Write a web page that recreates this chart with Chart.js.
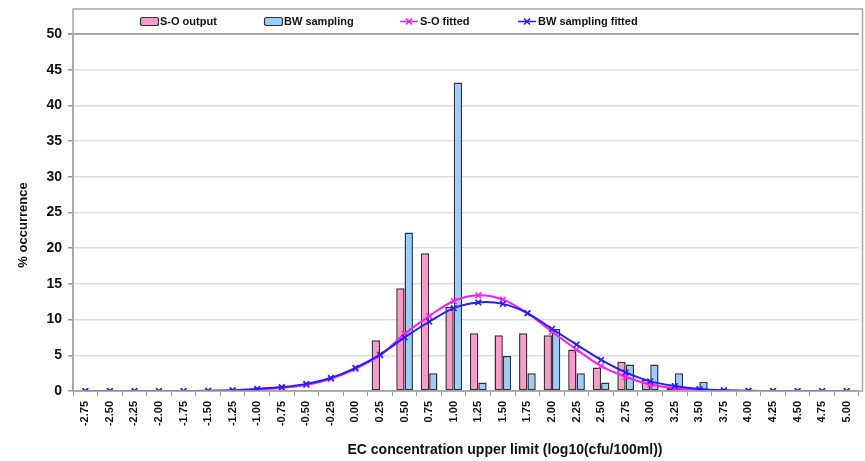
<!DOCTYPE html>
<html><head><meta charset="utf-8">
<script src="https://cdn.jsdelivr.net/npm/chart.js@4"></script>
<style>html,body{margin:0;padding:0;background:#fff;}#wrap{width:865px;height:461px;}</style>
</head><body><div id="wrap"><canvas id="c" width="865" height="461"></canvas></div>
<script>
const categories = ['-2.75','-2.50','-2.25','-2.00','-1.75','-1.50','-1.25','-1.00','-0.75','-0.50','-0.25','0.00',
  '0.25','0.50','0.75','1.00','1.25','1.50','1.75','2.00','2.25','2.50','2.75','3.00','3.25','3.50',
  '3.75','4.00','4.25','4.50','4.75','5.00'];
const soOutput = [null,null,null,null,null,null,null,null,null,null,null,null,
  7.1,14.4,19.3,11.8,8.1,7.8,8.1,7.8,5.8,3.3,4.1,1.6,0.5,0.2,
  null,null,null,null,null,null];
const bwSampling = [null,null,null,null,null,null,null,null,null,null,null,null,
  null,22.2,2.5,43.2,1.2,4.9,2.5,8.7,2.5,1.2,3.7,3.7,2.5,1.3,
  null,null,null,null,null,null];
const soFitted = [0,0,0,0,0,0.02,0.08,0.2,0.45,0.85,1.7,3.1,
  5.0,8.0,10.5,12.6,13.4,12.8,10.9,8.3,5.8,3.5,2.0,0.9,0.4,0.15,
  0.05,0.01,0,0,0,0];
const bwFitted = [0,0,0,0,0,0.03,0.1,0.3,0.55,1.0,1.85,3.25,
  5.1,7.5,9.7,11.6,12.4,12.2,10.9,8.7,6.5,4.35,2.6,1.35,0.7,0.28,
  0.1,0.03,0,0,0,0];
const yTicks = [0,5,10,15,20,25,30,35,40,45,50];

const FONT = "'Liberation Sans', Arial, sans-serif";
const PINK = '#ff99cc', BLUE = '#99ccff', MAG = '#ff1aff', DBLUE = '#1f1fff';

const framePlugin = {
  id: 'frame',
  afterDraw(chart) {
    const ctx = chart.ctx, ca = chart.chartArea;
    ctx.save();
    ctx.strokeStyle = '#a8a8a8';
    ctx.lineWidth = 1.5;
    ctx.strokeRect(ca.left, 9, 862.5 - ca.left, ca.bottom - 9);
    const pos = [140, 264, 400, 518];
    ctx.font = "bold 11px " + FONT;
    ctx.textBaseline = 'middle';
    ctx.textAlign = 'left';
    const ly = 21.5;
    chart.data.datasets.forEach((ds, i) => {
      const x = pos[i];
      if (ds.type === 'bar') {
        ctx.fillStyle = ds.backgroundColor;
        ctx.strokeStyle = '#333';
        ctx.lineWidth = 1.2;
        ctx.beginPath();
        ctx.roundRect(x + 0.5, ly - 4, 18, 8, 2);
        ctx.fill(); ctx.stroke();
      } else {
        ctx.strokeStyle = ds.borderColor;
        ctx.lineWidth = 1.5;
        ctx.beginPath(); ctx.moveTo(x, ly); ctx.lineTo(x + 18, ly); ctx.stroke();
        const cx = x + 9, r = 3;
        ctx.beginPath();
        ctx.moveTo(cx - r, ly - r); ctx.lineTo(cx + r, ly + r);
        ctx.moveTo(cx + r, ly - r); ctx.lineTo(cx - r, ly + r);
        ctx.stroke();
      }
      ctx.fillStyle = '#111';
      ctx.fillText(ds.label, x + 20, ly);
    });
    ctx.fillStyle = '#111';
    ctx.font = "bold 14px " + FONT;
    ctx.textAlign = 'center';
    ctx.fillText('EC concentration upper limit (log10(cfu/100ml))', 505, 450);
    ctx.save();
    ctx.translate(23, 225);
    ctx.rotate(-Math.PI / 2);
    ctx.font = "bold 13px " + FONT;
    ctx.fillText('% occurrence', 0, 0);
    ctx.restore();
    ctx.restore();
  }
};

new Chart(document.getElementById('c'), {
  data: {
    labels: categories,
    datasets: [
      { type: 'bar', label: 'S-O output', data: soOutput, backgroundColor: PINK, borderColor: '#333', borderWidth: 1.5,
        borderSkipped: false, categoryPercentage: 0.68, barPercentage: 1.0, order: 2 },
      { type: 'bar', label: 'BW sampling', data: bwSampling, backgroundColor: BLUE, borderColor: '#333', borderWidth: 1.5,
        borderSkipped: false, categoryPercentage: 0.68, barPercentage: 1.0, order: 2 },
      { type: 'line', label: 'S-O fitted', data: soFitted, borderColor: MAG, backgroundColor: MAG, borderWidth: 2,
        pointStyle: 'crossRot', pointRadius: 4, pointBorderWidth: 1.5, tension: 0.3, fill: false, order: 1 },
      { type: 'line', label: 'BW sampling fitted', data: bwFitted, borderColor: DBLUE, backgroundColor: DBLUE, borderWidth: 2,
        pointStyle: 'crossRot', pointRadius: 4, pointBorderWidth: 1.5, tension: 0.3, fill: false, order: 0 }
    ]
  },
  options: {
    responsive: false,
    animation: false,
    devicePixelRatio: 1,
    layout: { padding: { top: 34, right: 1, left: 0, bottom: 0 } },
    plugins: { legend: { display: false }, tooltip: { enabled: false }, title: { display: false } },
    scales: {
      x: {
        type: 'category',
        offset: true,
        grid: { display: true, drawOnChartArea: false, offset: true, tickLength: 5, tickColor: '#999', color: '#999' },
        border: { display: true, color: '#999', width: 1.5 },
        ticks: { minRotation: 90, maxRotation: 90, autoSkip: false, padding: 5, color: '#111',
          font: { family: FONT, size: 11, weight: 'bold' } },
        afterFit(s) { s.height = 70; }
      },
      y: {
        min: 0, max: 50,
        afterBuildTicks(s) { s.ticks = yTicks.map(v => ({ value: v })); },
        grid: { color: ctx => (ctx.tick && ctx.tick.value === 50) ? '#a8a8a8' : '#dedede',
          lineWidth: ctx => (ctx.tick && ctx.tick.value === 50) ? 2 : 1.5,
          tickLength: 5, tickColor: '#999' },
        border: { display: true, color: '#999', width: 1.5 },
        ticks: { padding: 6, color: '#111', font: { family: FONT, size: 14, weight: 'bold' } },
        afterFit(s) { s.width = 73; }
      }
    }
  },
  plugins: [framePlugin]
});
</script>
</body></html>
